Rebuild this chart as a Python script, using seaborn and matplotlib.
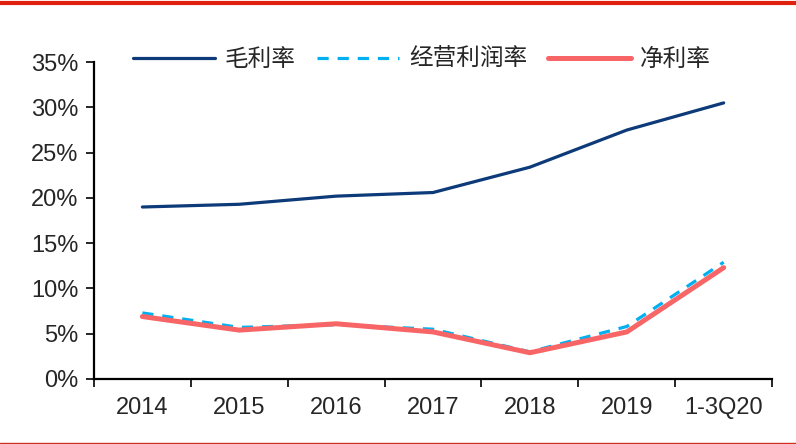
import pandas as pd
import numpy as np
import matplotlib
matplotlib.use("Agg")
import matplotlib.pyplot as plt
import seaborn as sns
from matplotlib.lines import Line2D
from matplotlib.ticker import FixedLocator, FuncFormatter

# data (%)
periods = ["2014", "2015", "2016", "2017", "2018", "2019", "1-3Q20"]
gross_margin = [19.0, 19.3, 20.2, 20.6, 23.4, 27.5, 30.5]
operating_margin = [7.3, 5.7, 6.0, 5.5, 3.0, 5.8, 12.9]
net_margin = [6.9, 5.4, 6.1, 5.2, 2.9, 5.2, 12.3]

series_names = ["毛利率", "经营利润率", "净利率"]
series_values = [gross_margin, operating_margin, net_margin]
colors = ["#0d3a78", "#00b0f0", "#f86566"]
widths = [2.3, 2.3, 3.6]
dashed = [False, True, False]

sns.set_style("white")
plt.rcParams["font.family"] = ["Liberation Sans", "Noto Sans CJK SC", "DejaVu Sans"]

fig = plt.figure(figsize=(7.96, 4.44), dpi=100)
ax = fig.add_axes([0.118, 0.1464, 0.852, 0.7136])

for name, vals, c, w, d in zip(series_names, series_values, colors, widths, dashed):
    df = pd.DataFrame({"period": periods, "value": vals})
    sns.lineplot(data=df, x="period", y="value", ax=ax, color=c, linewidth=w,
                 label=name, sort=False)
    if d:
        ax.lines[-1].set_dashes([3.5, 2.8])

ax.set_ylim(0, 35)
ax.set_xlim(-0.5, len(periods) - 0.5)
ax.yaxis.set_major_locator(FixedLocator(np.arange(0, 36, 5)))
ax.yaxis.set_major_formatter(FuncFormatter(lambda v, p: f"{v:.0f}%"))
ax.xaxis.set_minor_locator(FixedLocator(np.arange(-0.5, len(periods), 1.0)))
ax.set_xlabel("")
ax.set_ylabel("")

for s in ["top", "right"]:
    ax.spines[s].set_visible(False)
for s in ["left", "bottom"]:
    ax.spines[s].set_color("black")
    ax.spines[s].set_linewidth(1.6)

ax.tick_params(axis="y", which="major", direction="out", length=6, width=1.4,
               left=True, labelsize=17, pad=5)
ax.tick_params(axis="x", which="major", length=0, labelsize=17, pad=13)
ax.tick_params(axis="x", which="minor", direction="out", length=6, width=1.4,
               bottom=True)

# legend with CJK font
handles = []
for c, w, d in zip(colors, widths, dashed):
    ln = Line2D([0], [0], color=c, linewidth=w)
    if d:
        ln.set_dashes([3.5, 2.8])
    handles.append(ln)
leg = ax.legend(handles, series_names, loc="center", ncol=3, frameon=False,
                bbox_to_anchor=(0.53, 0.865), bbox_transform=fig.transFigure,
                prop={"family": ["Noto Sans CJK SC", "DejaVu Sans"], "size": 17},
                handlelength=3.5, handletextpad=0.4, columnspacing=0.9)

# decorative rules at top and bottom
fig.add_artist(Line2D([0, 1], [0.993, 0.993], color="#e0200f", linewidth=3,
                      transform=fig.transFigure))
fig.add_artist(Line2D([0, 1], [0.003, 0.003], color="#d0301f", linewidth=1,
                      transform=fig.transFigure))

fig.savefig("out.png", dpi=100)
